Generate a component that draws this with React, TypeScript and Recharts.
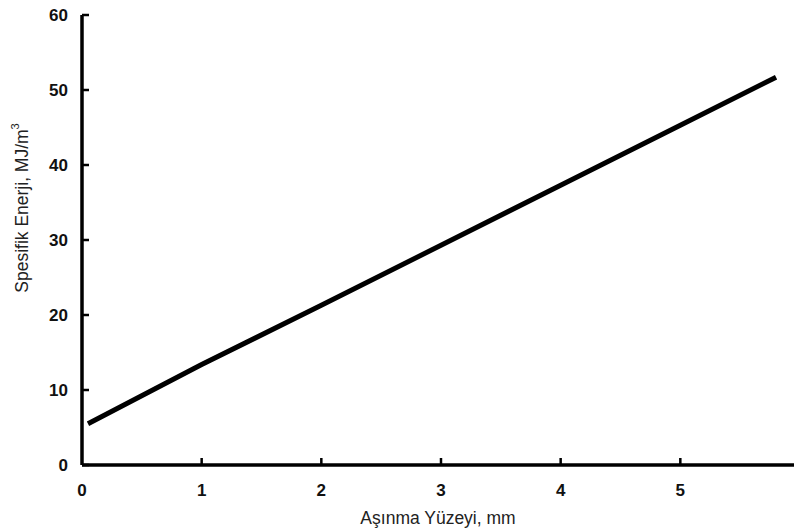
import { LineChart, Line, XAxis, YAxis, Label } from 'recharts';

const wearDepth = [0.05, 1, 2, 3, 4, 5, 5.8];
const specificEnergy = [5.5, 13.4, 21.3, 29.3, 37.3, 45.3, 51.7];
const xTicks = [0, 1, 2, 3, 4, 5];
const yTicks = [0, 10, 20, 30, 40, 50, 60];

const chartData = wearDepth.map((x, i) => ({ x, y: specificEnergy[i] }));

const FONT = '"Liberation Sans", Arial, sans-serif';
const Y_MARGIN = 14;
const X_MARGIN = 19;

function YTick({ x, y, payload }: any) {
  const axisX = x + Y_MARGIN;
  return (
    <g>
      <line x1={axisX} x2={axisX + 7} y1={y} y2={y} stroke="#000" strokeWidth={2.5} />
      <text x={x} y={y} dy="0.36em" textAnchor="end" fontFamily={FONT} fontSize={17} fontWeight="bold" fill="#111">
        {payload.value}
      </text>
    </g>
  );
}

function XTick({ x, y, payload }: any) {
  const axisY = y - X_MARGIN;
  return (
    <g>
      {payload.value !== 0 && (
        <line x1={x} x2={x} y1={axisY} y2={axisY - 7} stroke="#000" strokeWidth={2.5} />
      )}
      <text x={x} y={y} dy="0.71em" textAnchor="middle" fontFamily={FONT} fontSize={17} fontWeight="bold" fill="#111">
        {payload.value}
      </text>
    </g>
  );
}

function YLabel({ viewBox }: any) {
  const cx = 22;
  const cy = viewBox.y + 193;
  return (
    <text
      x={cx}
      y={cy}
      transform={`rotate(-90, ${cx}, ${cy})`}
      textAnchor="middle"
      dominantBaseline="central"
      fontFamily={FONT}
      fontSize={17.5}
      fill="#222"
    >
      Spesifik Enerji, MJ/m<tspan fontSize={11} dy={-7}>3</tspan>
    </text>
  );
}

export default function App() {
  return (
    <div style={{ position: 'absolute', left: 0, top: 0, width: 794, height: 530, background: '#fff' }}>
      <LineChart width={794} height={530} data={chartData} margin={{ top: 15, right: 0, bottom: 0, left: 0 }}>
        <XAxis
          dataKey="x"
          type="number"
          domain={[0, 5.95]}
          ticks={xTicks}
          height={65}
          tickSize={0}
          tickMargin={X_MARGIN}
          tick={<XTick />}
          axisLine={{ stroke: '#000', strokeWidth: 3.5 }}
          tickLine={false}
        >
          <Label
            value="Aşınma Yüzeyi, mm"
            position="insideBottom"
            offset={6}
            style={{ fontFamily: FONT, fontSize: 17.5, fill: '#222' }}
          />
        </XAxis>
        <YAxis
          type="number"
          domain={[0, 60]}
          ticks={yTicks}
          width={82}
          tickSize={0}
          tickMargin={Y_MARGIN}
          tick={<YTick />}
          axisLine={{ stroke: '#000', strokeWidth: 3.5 }}
          tickLine={false}
        >
          <Label content={<YLabel />} />
        </YAxis>
        <Line
          type="linear"
          dataKey="y"
          stroke="#000"
          strokeWidth={5}
          dot={false}
          isAnimationActive={false}
        />
      </LineChart>
    </div>
  );
}
